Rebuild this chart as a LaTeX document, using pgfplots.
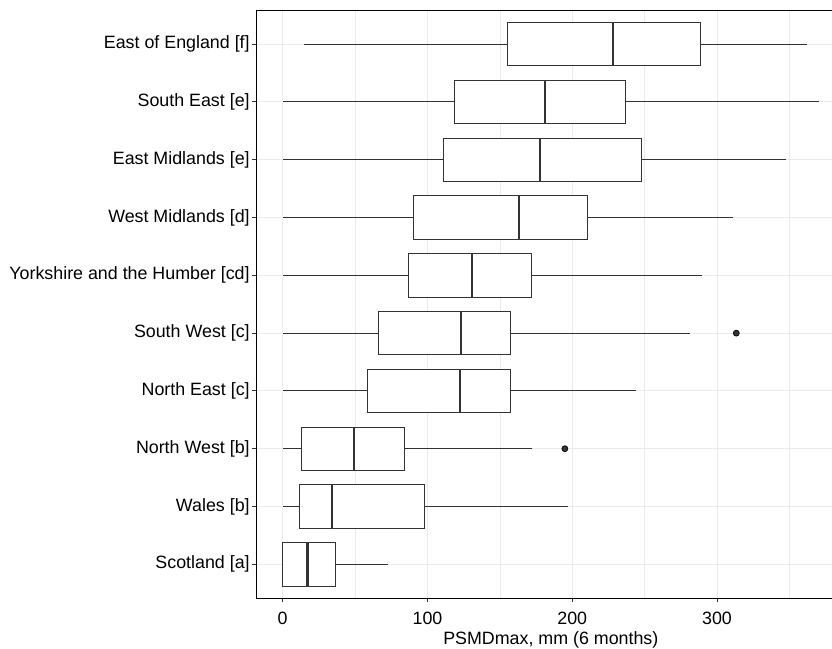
\documentclass[border=0pt]{standalone}
\usepackage{fontspec}
\setmainfont{Liberation Sans}
\usepackage{pgfplots}
\pgfplotsset{compat=1.18}
\usepgfplotslibrary{statistics}
\definecolor{g20}{HTML}{333333}
\definecolor{g92}{HTML}{EBEBEB}
\begin{document}
\fontsize{10.7pt}{12.8pt}\selectfont
\begin{tikzpicture}
\begin{axis}[name=ax, scale only axis, width=345.4pt, height=352.6pt,
  xmin=-18.2, xmax=379.4, ymin=0.412, ymax=10.58,
  xtick={0,100,200,300}, minor xtick={50,150,250,350},
  ytick={1,2,3,4,5,6,7,8,9,10},
  yticklabels={Scotland [a], Wales [b], North West [b], North East [c], South West [c], Yorkshire and the Humber [cd], West Midlands [d], East Midlands [e], South East [e], East of England [f]},
  grid=both,
  major grid style={g92, line width=0.6pt},
  minor grid style={g92, line width=0.3pt},
  axis line style={draw=none},
  tick align=outside, major tick length=2.4pt, minor tick length=0pt,
  tick style={g20, line width=0.6pt},
  tick pos=left,
  /pgf/number format/assume math mode=true,
  yticklabel style={anchor=east, inner sep=0pt, xshift=-1.4pt},
  xticklabel style={anchor=base, inner sep=0pt, yshift=-13.6pt},
  xlabel={PSMDmax, mm (6 months)},
  xlabel style={at={(axis description cs:0.5,0)}, anchor=base, yshift=-27.6pt, xshift=4pt, inner sep=0pt},
  boxplot/box extend=0.75, boxplot/whisker extend=0,
  boxplot/every median/.style={line width=1.3pt},
]
\addplot[g20, line width=0.6pt, fill=white, boxplot prepared={draw position=10, lower whisker=14.4, lower quartile=155.4, median=228.2, upper quartile=288.5, upper whisker=361.8}] coordinates {};
\addplot[g20, line width=0.6pt, fill=white, boxplot prepared={draw position=9, lower whisker=0, lower quartile=118.7, median=181.3, upper quartile=236.7, upper whisker=370.3}] coordinates {};
\addplot[g20, line width=0.6pt, fill=white, boxplot prepared={draw position=8, lower whisker=0, lower quartile=110.8, median=178.0, upper quartile=247.7, upper whisker=347.4}] coordinates {};
\addplot[g20, line width=0.6pt, fill=white, boxplot prepared={draw position=7, lower whisker=0, lower quartile=90.5, median=163.1, upper quartile=210.3, upper whisker=310.8}] coordinates {};
\addplot[g20, line width=0.6pt, fill=white, boxplot prepared={draw position=6, lower whisker=0, lower quartile=86.7, median=130.5, upper quartile=171.8, upper whisker=289.7}] coordinates {};
\addplot[g20, line width=0.6pt, fill=white, boxplot prepared={draw position=5, lower whisker=0, lower quartile=66.4, median=123.3, upper quartile=157.2, upper whisker=281.0}] coordinates {};
\addplot[g20, line width=0.6pt, fill=white, boxplot prepared={draw position=4, lower whisker=0, lower quartile=58.5, median=122.6, upper quartile=157.2, upper whisker=243.8}] coordinates {};
\addplot[g20, line width=0.6pt, fill=white, boxplot prepared={draw position=3, lower whisker=0, lower quartile=12.8, median=49.0, upper quartile=84.1, upper whisker=172.3}] coordinates {};
\addplot[g20, line width=0.6pt, fill=white, boxplot prepared={draw position=2, lower whisker=0, lower quartile=11.5, median=34.1, upper quartile=97.7, upper whisker=196.9}] coordinates {};
\addplot[g20, line width=0.6pt, fill=white, boxplot prepared={draw position=1, lower whisker=0, lower quartile=0, median=17.2, upper quartile=36.7, upper whisker=72.6}] coordinates {};
\addplot[only marks, mark=*, mark size=1.8pt, mark options={fill=g20, draw=none}] coordinates {(313.3,5) (194.9,3)};
\end{axis}
\draw[black, line width=0.9pt, line cap=rect] (ax.north east) -- (ax.north west) -- (ax.south west) -- (ax.south east);
\pgfresetboundingbox
\path ([xshift=-153.8pt,yshift=-30.4pt]ax.south west) rectangle ([yshift=6.4pt]ax.north east);
\end{tikzpicture}
\end{document}
